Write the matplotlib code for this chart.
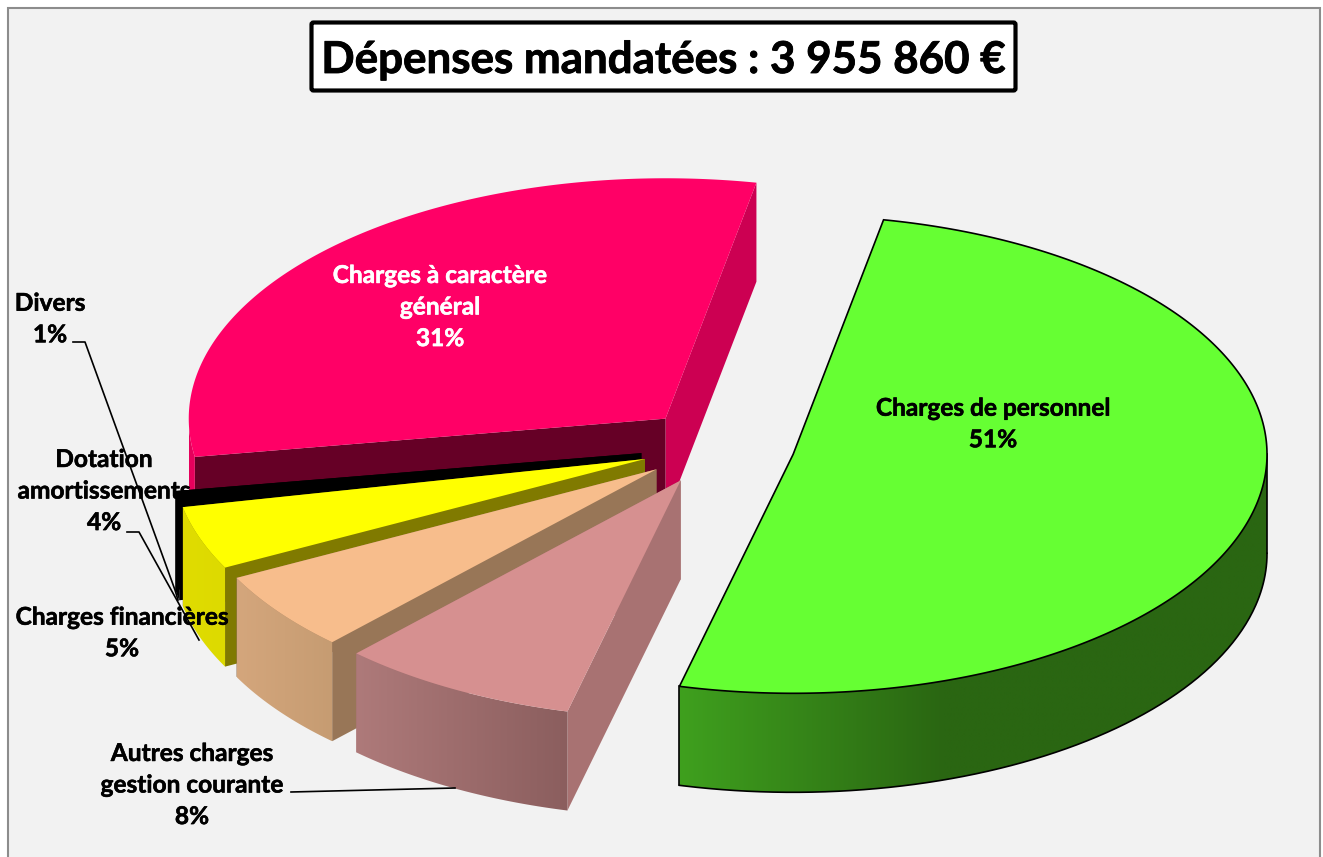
import numpy as np
import matplotlib
matplotlib.use("Agg")
from matplotlib import pyplot as plt
from matplotlib.colors import to_rgb
from matplotlib.patches import Polygon, Rectangle, FancyBboxPatch
import matplotlib.patheffects as pe

titre = "Dépenses mandatées : 3 955 860 €"

# sens horaire a partir du vert
categories = ["Charges de personnel", "Autres charges\ngestion courante", "Charges financières",
              "Dotation\namortissements", "Divers", "Charges à caractère\ngénéral"]
# parts, les etiquettes sont arrondies
parts = [50.8, 8.2, 5.4, 4.3, 0.7, 30.6]
etiquettes = ["51%", "8%", "5%", "4%", "1%", "31%"]

couleur_dessus = ["#66FF33", "#D69090", "#F7BD8C", "#FFFF00", "#000000", "#FF0066"]
# face de debut et face de fin de chaque part
couleur_debut = ["#2A6612", "#A87272", "#987657", "#807A00", "#000000", "#660026"]
couleur_fin = ["#2A6612", "#A87272", "#987657", "#807A00", "#000000", "#CC0052"]
mur_gauche = ["#3FA01E", "#AE7A7A", "#D4A67C", "#E0DC00", "#000000", "#E6005C"]
mur_droite = ["#2A6612", "#8B5E5E", "#C69C72", "#DDDA00", "#000000", "#E6005C"]
etendue_mur = [0.45, 1, 1, 1, 1, 1]
contour = [True, False, False, False, False, False]
eclate = [0.163, 0.165, 0.163, 0.164, 0.165, 0.16]
rayon = [1.004, 1, 1, 1, 1, 1.01]

# geometrie de la projection
cx, cy = 718, 446
a, b = 472, 238
prof = 99
depart = -79.0

pos_labels = [(993, 424), (192, 785), (122, 633), (104, 491), (50, 319), (440, 307)]
col_labels = ["black", "black", "black", "black", "black", "white"]

plt.rcParams['font.family'] = ['Lato', 'DejaVu Sans']

fig = plt.figure(figsize=(13.23, 8.57), dpi=100, facecolor="white")
ax = fig.add_axes([0, 0, 1, 1])
ax.axis("off")

ax.add_patch(Rectangle((7.5, 7.5), 1312, 870, fc="#F2F2F2", ec="#8C8C8C", lw=1.5, zorder=0))

# angles de chaque part
fin = depart + np.cumsum(parts) * 3.6
debut = fin - np.array(parts) * 3.6


def point(x0, y0, t, r=1):
    return x0 + r * a * np.cos(t), y0 + r * b * np.sin(t)


def dessine_part(i, z):
    t1, t2 = np.radians(debut[i]), np.radians(fin[i])
    tm = (t1 + t2) / 2
    r = rayon[i]
    x0, y0 = point(cx, cy, tm)
    x0, y0 = cx + eclate[i] * (x0 - cx), cy + eclate[i] * (y0 - cy)
    edge = "black" if contour[i] else "none"
    lw = 1.2 if contour[i] else 0

    # faces radiales
    for t, col in ((t2, couleur_fin[i]), (t1, couleur_debut[i])):
        px, py = point(x0, y0, t, r)
        ax.add_patch(Polygon([(x0, y0), (px, py), (px, py + prof), (x0, y0 + prof)],
                             fc=col, ec="none", zorder=z))

    # mur exterieur, seulement la partie avant, en degrade
    m1, m2 = max(t1, 0), min(t2, np.pi)
    if m2 > m1:
        ts = np.linspace(m1, m2, 200)
        xs, ys = point(x0, y0, ts, r)
        xd, xg = xs.max(), xs.min()
        contour_mur = np.r_[np.c_[xs, ys], np.c_[xs[::-1], ys[::-1] + prof]]
        mur = Polygon(contour_mur, closed=True, fc="none", ec="none", zorder=z + 0.1)
        ax.add_patch(mur)
        f = np.clip(np.linspace(0, 1, 256) / etendue_mur[i], 0, 1)[None, :, None]
        cg, cd = np.array(to_rgb(mur_gauche[i])), np.array(to_rgb(mur_droite[i]))
        im = ax.imshow(cg + (cd - cg) * f, extent=(xg, xd, ys.max() + prof, ys.min()),
                       aspect="auto", zorder=z + 0.1, interpolation="bilinear")
        im.set_clip_path(mur)
        if contour[i]:
            ax.plot(xs, ys + prof, color="black", lw=1.2, zorder=z + 0.2)
            ax.plot([xs[0], xs[0]], [ys[0], ys[0] + prof], color="black", lw=1.2, zorder=z + 0.2)
            ax.plot([xs[-1], xs[-1]], [ys[-1], ys[-1] + prof], color="black", lw=1.2, zorder=z + 0.2)

    # dessus
    ts = np.linspace(t1, t2, 300)
    xs, ys = point(x0, y0, ts, r)
    ax.add_patch(Polygon(np.r_[[(x0, y0)], np.c_[xs, ys]], closed=True, fc=couleur_dessus[i],
                         ec=edge, lw=lw, zorder=z + 0.3))


# du fond vers l'avant
for z, i in enumerate([5, 4, 3, 2, 1, 0]):
    dessine_part(i, z + 1)

# traits de rappel
ax.plot([73, 85, 175, 178], [342, 342, 590, 600], color="black", lw=1.2, zorder=20)
ax.plot([127, 139, 199], [532, 532, 640], color="black", lw=1.2, zorder=20)
ax.plot([291, 455], [792, 788], color="black", lw=1.2, zorder=20)

for i in range(len(categories)):
    txt = categories[i] + "\n" + etiquettes[i]
    t = ax.text(pos_labels[i][0], pos_labels[i][1], txt, ha="center", va="center", ma="center",
                color=col_labels[i], fontsize=17.6, fontweight="bold", linespacing=1.45, zorder=21)
    t.set_path_effects([pe.withStroke(linewidth=0.4, foreground=col_labels[i])])

# titre encadre
ax.add_patch(FancyBboxPatch((311.5, 22.5), 704, 68, boxstyle="round,pad=0,rounding_size=2",
                            fc="white", ec="black", lw=3, zorder=22))
t = ax.text(663.5, 60, titre, ha="center", va="center", fontsize=31.6, fontweight="bold", color="black", zorder=23)
t.set_path_effects([pe.withStroke(linewidth=0.6, foreground="black")])

ax.set_xlim(0, 1323)
ax.set_ylim(857, 0)
fig.savefig("out.png", dpi=100, facecolor="white")
